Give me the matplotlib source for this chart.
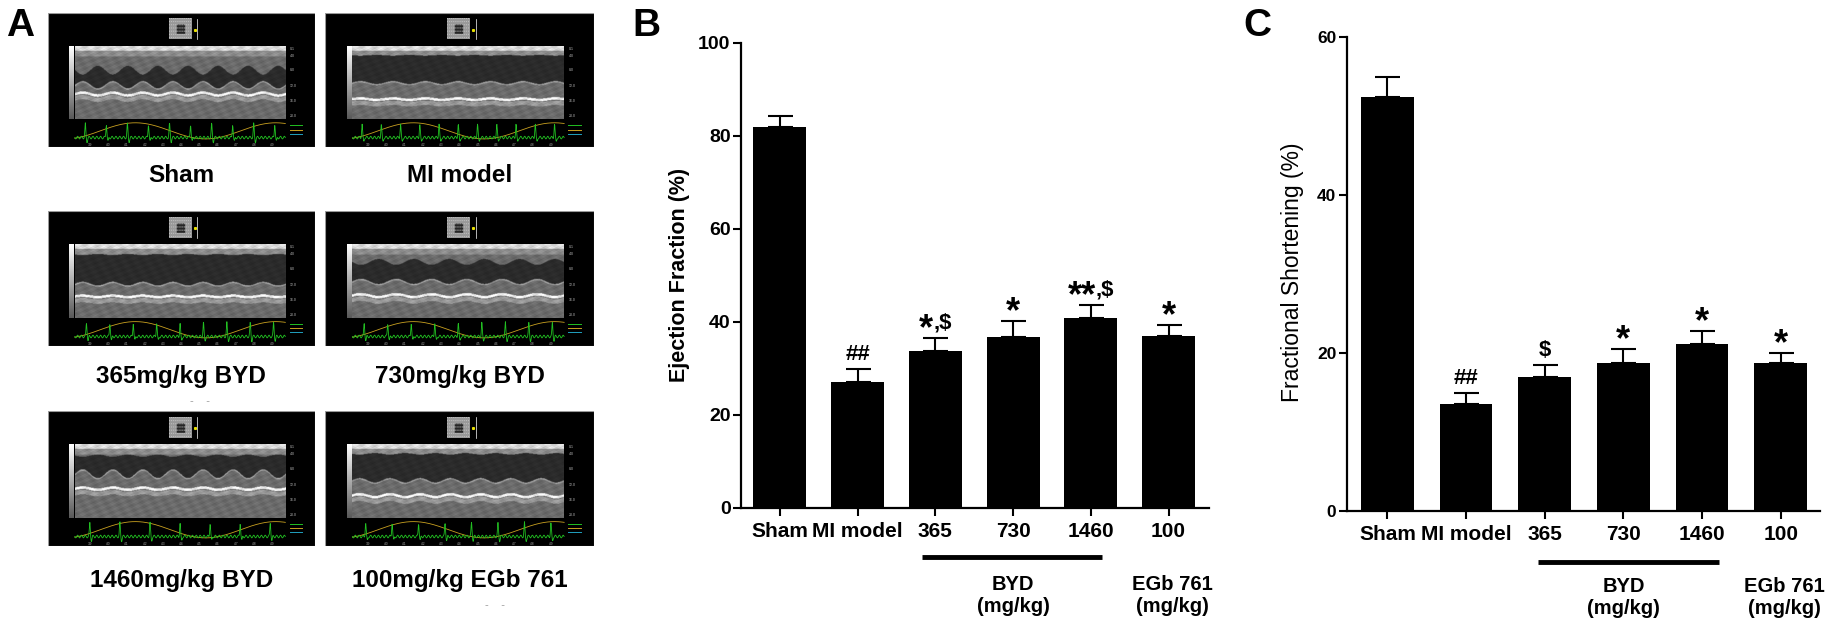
import numpy as np
import matplotlib
matplotlib.use("Agg")
import matplotlib.pyplot as plt
from matplotlib.patches import Rectangle

plt.rcParams['font.family'] = ['Liberation Sans', 'DejaVu Sans']

# ---- data ----
groups = ['Sham', 'MI model', '365', '730', '1460', '100']
ef_mean = [81.8, 27.0, 33.8, 36.8, 40.9, 37.0]
ef_sem = [2.4, 2.9, 2.8, 3.4, 2.8, 2.3]
ef_marks = ['', '##', '*,$', '*', '**,$', '*']
fs_mean = [52.4, 13.5, 16.9, 18.7, 21.1, 18.7]
fs_sem = [2.5, 1.4, 1.6, 1.8, 1.7, 1.3]
fs_marks = ['', '##', '$', '*', '*', '*']

echo_titles = ['Sham', 'MI model', '365mg/kg BYD', '730mg/kg BYD',
               '1460mg/kg BYD', '100mg/kg EGb 761']

W, H = 1830, 639
fig = plt.figure(figsize=(W / 100, H / 100), dpi=100)


def px_axes(x0, y0, x1, y1):
    return fig.add_axes([x0 / W, 1 - y1 / H, (x1 - x0) / W, (y1 - y0) / H])


# ---------------- panel A : echo pictures (illustrative) ----------------
echo_style = [
    dict(cyc=7.0, ct=0.27, at=0.12, cb=0.58, ab=0.10, wl=0.68, aw=0.04, beats=10),
    dict(cyc=6.5, ct=0.12, at=0.01, cb=0.52, ab=0.04, wl=0.74, aw=0.02, beats=11),
    dict(cyc=7.0, ct=0.13, at=0.02, cb=0.56, ab=0.05, wl=0.72, aw=0.02, beats=9),
    dict(cyc=6.0, ct=0.20, at=0.08, cb=0.54, ab=0.07, wl=0.72, aw=0.04, beats=9),
    dict(cyc=7.0, ct=0.14, at=0.03, cb=0.46, ab=0.12, wl=0.62, aw=0.03, beats=7),
    dict(cyc=7.0, ct=0.12, at=0.02, cb=0.52, ab=0.06, wl=0.72, aw=0.04, beats=8),
]


def mmode(st):
    nx, ny = 420, 140
    X, Y = np.meshgrid(np.linspace(0, 1, nx), np.linspace(0, 1, ny))
    w = 0.5 * (1 + np.sin(2 * np.pi * st['cyc'] * X))
    img = np.full_like(X, 0.42)
    img[Y < 0.14] = 0.55
    img[Y < 0.06] = 0.85
    top = st['ct'] + st['at'] * w
    bot = st['cb'] - st['ab'] * w
    img[(Y > top) & (Y < bot)] = 0.17
    img[(Y >= bot) & (Y < bot + 0.02)] = 0.6
    wall = st['wl'] - st['aw'] * w
    img[np.abs(Y - wall) < 0.018] = 0.95
    img[(Y > wall + 0.03) & (Y < wall + 0.09)] = 0.6
    tex = 1 + 0.10 * np.sin(97 * X + 31 * Y) * np.cos(53 * Y - 13 * X) \
        + 0.06 * np.sin(311 * X) * np.sin(173 * Y)
    return np.clip(img * tex, 0, 1)


def draw_echo(ax, st):
    ax.axis('off')
    ax.add_patch(Rectangle((0, 0), 1, 1, facecolor='black', edgecolor='#9a9a9a',
                           lw=0.8, zorder=0))
    ax.imshow(mmode(st), cmap='gray', vmin=0, vmax=1, aspect='auto', zorder=1,
              extent=(0.102, 0.889, 0.795, 0.256), interpolation='bilinear')
    grad = np.linspace(1, 0.35, 60)[:, None]
    ax.imshow(grad, cmap='gray', vmin=0, vmax=1, aspect='auto', zorder=1,
              extent=(0.081, 0.096, 0.795, 0.256))
    thumb = np.full((20, 24), 0.6)
    thumb[6:15, 8:17] = 0.15
    thumb[::3, ::2] = 0.75
    ax.imshow(thumb, cmap='gray', vmin=0, vmax=1, aspect='auto', zorder=1,
              extent=(0.455, 0.54, 0.2, 0.046))
    ax.plot([0.56, 0.56], [0.05, 0.2], color='white', lw=0.5, zorder=2)
    ax.plot([0.552], [0.13], marker='s', ms=1.2, color='#e8e000', zorder=2)
    # depth scale
    for yy, lab in zip([0.27, 0.32, 0.43, 0.55, 0.66, 0.77],
                       ['0.1', '4.0', '8.0', '12.0', '16.0', '20.0']):
        ax.text(0.905, yy, lab, color='#bbbbbb', fontsize=2.5, va='center')
    # ECG and respiration traces
    xs = np.linspace(0.102, 0.889, 700)
    u = (xs - 0.102) / 0.787
    ecg = 0.93 + 0.01 * np.sin(2 * np.pi * 55 * u)
    for k in range(st['beats']):
        b = (k + 0.5) / st['beats']
        ecg = ecg - 0.1 * np.exp(-((u - b) / 0.003) ** 2) + 0.03 * np.exp(-((u - b - 0.008) / 0.003) ** 2)
    resp = 0.88 + 0.06 * np.sin(2 * np.pi * 1.5 * u + 2.0)
    ax.plot(xs, resp, color='#c8a020', lw=0.6, zorder=2)
    ax.plot(xs, ecg, color='#22c022', lw=0.6, zorder=2)
    for i in range(11):
        ax.text(0.16 + i * 0.068, 0.985, '%.1f' % (3.9 + i * 0.1), color='#aaaaaa',
                fontsize=2.3, ha='center', va='center')
    for yy, c in zip([0.84, 0.87, 0.9], ['#22c022', '#c8a020', '#20a0c0']):
        ax.plot([0.905, 0.95], [yy, yy], color=c, lw=0.7, zorder=2)
    ax.set_xlim(0, 1)
    ax.set_ylim(1, 0)


cols = [(47.5, 315), (325, 594)]
rows = [(12.5, 147), (210.5, 346), (410.5, 546)]
label_y = [175, 376, 581]
for i, title in enumerate(echo_titles):
    r, c = divmod(i, 2)
    ax = px_axes(cols[c][0], rows[r][0], cols[c][1], rows[r][1])
    draw_echo(ax, echo_style[i])
    fig.text((cols[c][0] + cols[c][1]) / 2 / W, 1 - label_y[r] / H, title,
             ha='center', va='center', fontsize=17.5, fontweight='bold')

# little grey marks under two captions
fig.text(200 / W, 1 - 401 / H, '-    -', color='#999999', fontsize=8, ha='center', va='center')
fig.text(495 / W, 1 - 605 / H, '-    -', color='#999999', fontsize=8, ha='center', va='center')


# ---------------- bar panels ----------------
def annotate_mark(ax, x, y, s):
    if not s:
        return
    if s[0] in '#$':
        ax.annotate(s, (x, y), xytext=(0, 6.5), textcoords='offset points',
                    ha='center', va='baseline', fontsize=16, fontweight='bold')
        return
    stars = s.split(',')[0]
    rest = s[len(stars):]
    star_fs, rest_fs = 26, 16
    w_star = 0.389 * star_fs * len(stars)
    w_rest = 0.834 * rest_fs if rest else 0
    left = -(w_star + w_rest) / 2
    ax.annotate(stars, (x, y), xytext=(left, -1), textcoords='offset points',
                ha='left', va='baseline', fontsize=star_fs, fontweight='bold')
    if rest:
        ax.annotate(rest, (x, y), xytext=(left + w_star, 6.5), textcoords='offset points',
                    ha='left', va='baseline', fontsize=rest_fs, fontweight='bold')


def bar_panel(rect, means, sems, marks, ymax, ystep, xlim, width,
              ytick_fs, line_x, line_y, grp_y):
    ax = fig.add_axes(rect)
    x = np.arange(len(groups))
    ax.bar(x, means, width=width, color='black', zorder=2)
    ax.errorbar(x, means, yerr=[np.zeros(len(sems)), sems], fmt='none',
                ecolor='black', elinewidth=1.5, capsize=9, capthick=1.5, zorder=1)
    for xi, m, s, mk in zip(x, means, sems, marks):
        annotate_mark(ax, xi, m + s, mk)
    ax.set_xlim(*xlim)
    ax.set_ylim(0, ymax)
    ax.set_yticks(np.arange(0, ymax + 1, ystep))
    ax.set_xticks(x)
    ax.set_xticklabels(groups)
    for sp in ['top', 'right']:
        ax.spines[sp].set_visible(False)
    for sp in ['left', 'bottom']:
        ax.spines[sp].set_linewidth(1.6)
    ax.tick_params(axis='both', direction='out', length=6, width=1.5)
    ax.tick_params(axis='x', labelsize=15, pad=4)
    ax.tick_params(axis='y', labelsize=ytick_fs, pad=1.5)
    for t in ax.get_xticklabels() + ax.get_yticklabels():
        t.set_fontweight('bold')
    ax.plot(line_x, [line_y, line_y], color='black', lw=3.5, clip_on=False,
            transform=ax.get_xaxis_transform(), solid_capstyle='butt')
    ax.text(3, grp_y, 'BYD\n(mg/kg)', transform=ax.get_xaxis_transform(),
            ha='center', va='center', fontsize=14.5, fontweight='bold', linespacing=1.15)
    ax.text(5.05, grp_y, 'EGb 761\n(mg/kg)', transform=ax.get_xaxis_transform(),
            ha='center', va='center', fontsize=14.5, fontweight='bold', linespacing=1.15)
    return ax


axB = bar_panel([741 / W, 1 - 508 / H, 468 / W, 465.3 / H], ef_mean, ef_sem, ef_marks,
                100, 20, (-0.5, 5.52), 0.68, 14, [1.83, 4.14], -0.106, -0.188)
axC = bar_panel([1346.7 / W, 1 - 510.8 / H, 473.3 / W, 474.1 / H], fs_mean, fs_sem, fs_marks,
                60, 20, (-0.518, 5.5), 0.67, 12.5, [1.91, 4.21], -0.107, -0.183)

fig.text(680 / W, 1 - 275 / H, 'Ejection Fraction (%)', rotation=90,
         ha='center', va='center', fontsize=15.5, fontweight='bold')
fig.text(1292 / W, 1 - 272 / H, 'Fractional Shortening (%)', rotation=90,
         ha='center', va='center', fontsize=16.5)

for lab, xx in zip(['A', 'B', 'C'], [20, 646, 1257]):
    fig.text(xx / W, 1 - 26 / H, lab, ha='center', va='center', fontsize=28, fontweight='bold')

fig.savefig('out.png', dpi=100)
